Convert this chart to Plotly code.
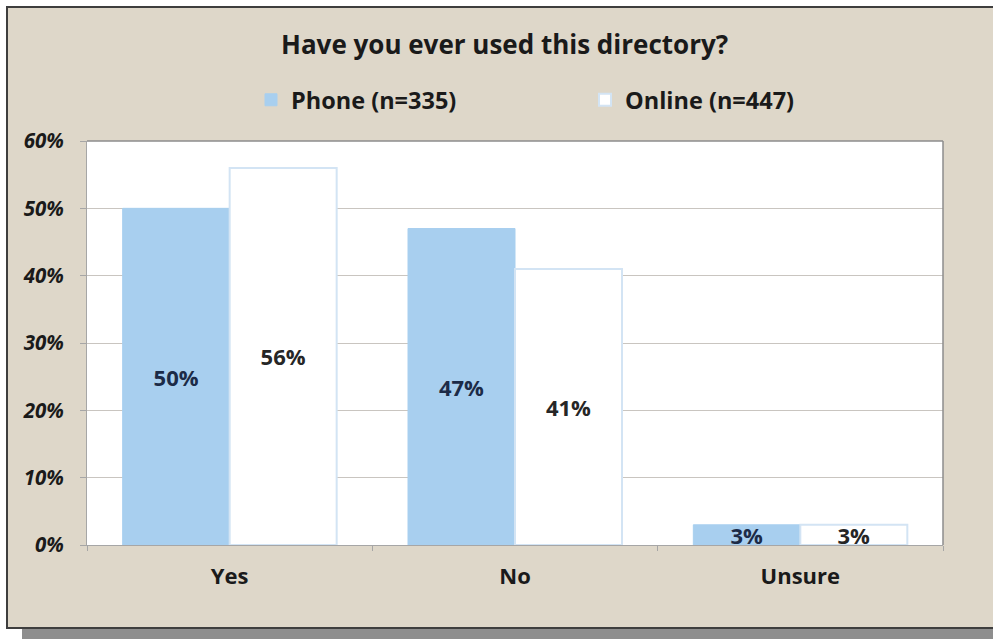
import plotly.graph_objects as go

# Survey responses (percent of respondents)
categories = ["Yes", "No", "Unsure"]
phone_pct = [50, 47, 3]
online_pct = [56, 41, 3]
phone_name = "Phone (n=335)"
online_name = "Online (n=447)"
y_ticks = [0, 10, 20, 30, 40, 50, 60]
y_tick_text = [f"{v}%" for v in y_ticks]

W, H = 993, 639
L, R, T, B = 87, 50, 141, 94
PW, PH = W - L - R, H - T - B

def px_x(px):
    return (px - L) / PW

def px_y(py):
    return (H - B - py) / PH

BEIGE = "#DED7C9"
FONT = "Open Sans"
TEXT = "#1A1A1A"

fig = go.Figure()
fig.add_trace(go.Bar(
    x=categories, y=phone_pct, name=phone_name,
    marker=dict(color="#A8CFEF", line=dict(color="#A8CFEF", width=1)),
    texttemplate="%{y:.0f}%", textposition="inside", insidetextanchor="middle",
    textangle=0, constraintext="none",
    textfont=dict(family=FONT, size=22, color="#1C2B47", weight="bold"),
))
fig.add_trace(go.Bar(
    x=categories, y=online_pct, name=online_name,
    marker=dict(color="#FFFFFF", line=dict(color="#D3E4F4", width=2)),
    texttemplate="%{y:.0f}%", textposition="inside", insidetextanchor="middle",
    textangle=0, constraintext="none",
    textfont=dict(family=FONT, size=22, color="#262626", weight="bold"),
))

shapes = [
    # drop shadow under the frame
    dict(type="rect", xref="paper", yref="paper", layer="below",
         x0=px_x(22), x1=px_x(1010), y0=px_y(660), y1=px_y(628),
         fillcolor="#8E8E8E", line=dict(width=0)),
    # chart frame
    dict(type="rect", xref="paper", yref="paper", layer="below",
         x0=px_x(7), x1=px_x(1010), y0=px_y(628), y1=px_y(7),
         fillcolor=BEIGE, line=dict(color="#3E3E3E", width=2)),
    # plot area
    dict(type="rect", xref="paper", yref="paper", layer="below",
         x0=0, x1=1, y0=0, y1=1,
         fillcolor="#FFFFFF", line=dict(width=0)),
    # top and right borders of the plot area
    dict(type="line", xref="paper", yref="paper", x0=0, x1=1, y0=1, y1=1,
         line=dict(color="#8C8C8C", width=1.5)),
    dict(type="line", xref="paper", yref="paper", x0=1, x1=1, y0=0, y1=1,
         line=dict(color="#8C8C8C", width=1.5)),
]

fig.update_layout(
    width=W, height=H,
    margin=dict(l=L, r=R, t=T, b=B, pad=0),
    paper_bgcolor="#FFFFFF", plot_bgcolor="rgba(0,0,0,0)",
    barmode="group", bargap=0.25, bargroupgap=0,
    showlegend=True,
    font=dict(family=FONT, color=TEXT),
    shapes=shapes,
    legend=dict(
        orientation="h", x=px_x(251), xanchor="left",
        y=px_y(100), yanchor="middle",
        bgcolor="rgba(0,0,0,0)", entrywidth=289, entrywidthmode="pixels",
        font=dict(family=FONT, size=23.5, color=TEXT, weight="bold"),
        traceorder="normal",
    ),
    annotations=[dict(
        text="Have you ever used this directory?", xref="paper", yref="paper",
        x=px_x(504), y=px_y(44), xanchor="center", yanchor="middle",
        showarrow=False,
        font=dict(family=FONT, size=26, color=TEXT, weight="bold"),
    )],
    xaxis=dict(
        showgrid=False, showline=True, linecolor="#A6A6A6", linewidth=1,
        mirror=False, ticks="outside", tickson="boundaries", ticklen=5,
        tickcolor="#A6A6A6",
        tickfont=dict(family=FONT, size=22, color=TEXT, weight="bold"),
        ticklabelstandoff=12,
    ),
    yaxis=dict(
        range=[0, 60], tickvals=y_ticks, ticktext=y_tick_text,
        showgrid=True, gridcolor="#C9C5C0", gridwidth=1,
        showline=True, linecolor="#A6A6A6", linewidth=1,
        ticks="outside", ticklen=6, tickcolor="#A6A6A6",
        tickfont=dict(family=FONT, size=20.5, color=TEXT,
                      weight="bold", style="italic"),
        ticklabelstandoff=12, zeroline=False,
    ),
)

fig.write_html("out.html")
